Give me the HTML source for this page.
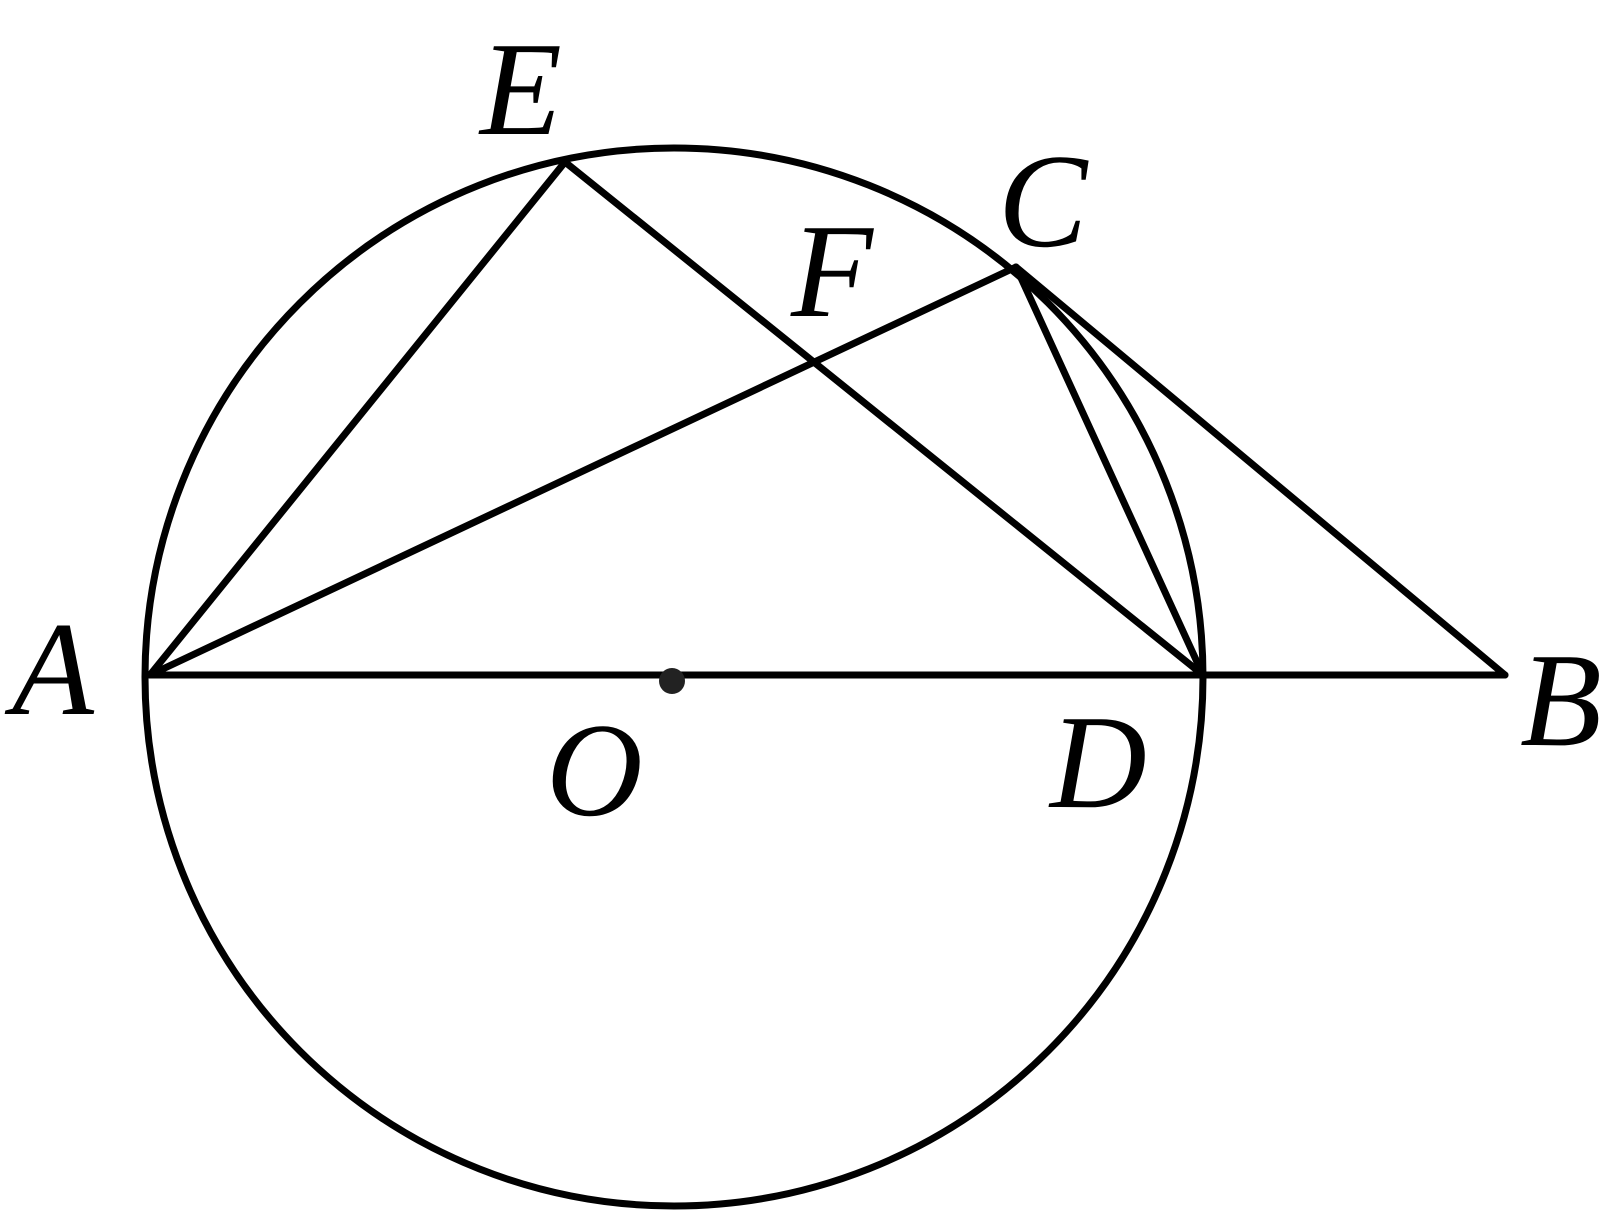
<!DOCTYPE html>
<html><head><meta charset="utf-8"><style>html,body{margin:0;padding:0;background:#fff}
.t{font-family:"Liberation Serif","Times New Roman",serif;font-style:italic;font-size:134px;fill:#000}</style></head>
<body>
<svg width="1622" height="1221" viewBox="0 0 1622 1221" xmlns="http://www.w3.org/2000/svg">
<g fill="none" stroke="#000" stroke-width="7" stroke-linejoin="round" stroke-linecap="round">
<circle cx="674" cy="677" r="529"/>
<line x1="150" y1="675" x2="1505" y2="675"/>
<line x1="150" y1="675" x2="565" y2="162"/>
<line x1="565" y1="162" x2="1203" y2="675"/>
<line x1="150" y1="675" x2="1016" y2="267"/>
<line x1="1016" y1="267" x2="1203" y2="675"/>
<line x1="1016" y1="267" x2="1505" y2="675"/>
</g>
<circle cx="672" cy="681" r="13" fill="#222"/>
<text class="t" x="480" y="134">E</text>
<text class="t" x="998" y="246">C</text>
<text class="t" x="791" y="316">F</text>
<text class="t" x="12" y="714">A</text>
<text class="t" x="1520" y="745">B</text>
<text class="t" x="546" y="815">O</text>
<text class="t" x="1050" y="807">D</text>
</svg>
</body></html>
